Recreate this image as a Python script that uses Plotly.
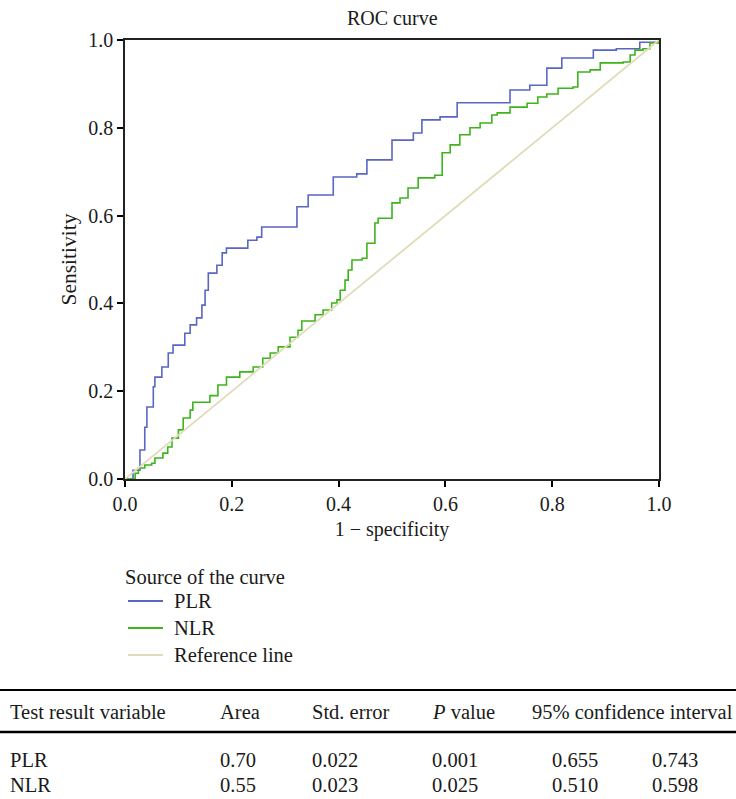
import plotly.graph_objects as go

# ROC curve points (1 - specificity, sensitivity)
plr_x = [0.0, 0.015, 0.028, 0.037, 0.041, 0.053, 0.056, 0.069, 0.081, 0.09, 0.107, 0.112,
         0.122, 0.134, 0.144, 0.15, 0.156, 0.172, 0.182, 0.19, 0.21, 0.23, 0.247, 0.256,
         0.294, 0.322, 0.343, 0.39, 0.434, 0.453, 0.5, 0.54, 0.556, 0.59, 0.622, 0.693,
         0.721, 0.758, 0.79, 0.818, 0.875, 0.877, 0.92, 0.964, 1.0]
plr_y = [0.0, 0.02, 0.066, 0.118, 0.164, 0.21, 0.232, 0.255, 0.287, 0.305, 0.305, 0.332,
         0.351, 0.367, 0.396, 0.43, 0.469, 0.487, 0.515, 0.526, 0.526, 0.544, 0.551, 0.574,
         0.574, 0.62, 0.647, 0.688, 0.695, 0.727, 0.772, 0.788, 0.818, 0.825, 0.857, 0.857,
         0.886, 0.897, 0.936, 0.959, 0.959, 0.977, 0.98, 0.995, 1.0]

nlr_x = [0.0, 0.019, 0.025, 0.037, 0.05, 0.056, 0.071, 0.08, 0.088, 0.1, 0.109, 0.122,
         0.127, 0.146, 0.159, 0.174, 0.19, 0.215, 0.24, 0.258, 0.272, 0.287, 0.309, 0.324,
         0.331, 0.346, 0.356, 0.371, 0.387, 0.397, 0.403, 0.412, 0.418, 0.425, 0.444, 0.453,
         0.468, 0.474, 0.5, 0.515, 0.53, 0.549, 0.58, 0.594, 0.609, 0.627, 0.646, 0.665,
         0.687, 0.697, 0.721, 0.753, 0.773, 0.79, 0.811, 0.839, 0.848, 0.871, 0.89, 0.933,
         0.946, 0.955, 0.97, 0.983, 1.0]
nlr_y = [0.0, 0.013, 0.025, 0.032, 0.036, 0.048, 0.059, 0.073, 0.093, 0.112, 0.139, 0.157,
         0.175, 0.175, 0.19, 0.214, 0.232, 0.244, 0.255, 0.275, 0.287, 0.301, 0.323, 0.339,
         0.36, 0.36, 0.374, 0.385, 0.401, 0.408, 0.43, 0.453, 0.476, 0.499, 0.503, 0.537,
         0.583, 0.594, 0.629, 0.64, 0.663, 0.686, 0.692, 0.743, 0.761, 0.784, 0.8, 0.811,
         0.829, 0.834, 0.847, 0.856, 0.87, 0.877, 0.89, 0.893, 0.927, 0.932, 0.948, 0.95,
         0.966, 0.977, 0.98, 0.993, 1.0]

ref_x = [0.0, 1.0]
ref_y = [0.0, 1.0]

series_names = ["PLR", "NLR", "Reference line"]

# table below the chart
tbl_header = ["Test result variable", "Area", "Std. error", "<i>P</i> value", "95% confidence interval"]
tbl_vars = ["PLR", "NLR"]
tbl_area = ["0.70", "0.55"]
tbl_se = ["0.022", "0.023"]
tbl_p = ["0.001", "0.025"]
tbl_ci_low = ["0.655", "0.510"]
tbl_ci_high = ["0.743", "0.598"]

W, H = 736, 799
L, R, T, B = 125, 659, 40, 479
SERIF = "Liberation Serif, Times New Roman, serif"
BLUE, GREEN, BEIGE = "#5a66c4", "#3db41c", "#e2dbb8"
TXT = 20.5


def px(x):
    return (x - L) / (R - L)


def py(y):
    return (B - y) / (B - T)


fig = go.Figure()
fig.add_trace(go.Scatter(x=plr_x, y=plr_y, mode="lines", name=series_names[0],
                         line=dict(color=BLUE, width=1.6, shape="hv")))
fig.add_trace(go.Scatter(x=nlr_x, y=nlr_y, mode="lines", name=series_names[1],
                         line=dict(color=GREEN, width=1.6, shape="hv")))
fig.add_trace(go.Scatter(x=ref_x, y=ref_y, mode="lines", name=series_names[2],
                         line=dict(color=BEIGE, width=1.8)))


def text(t, x, y, size=TXT, anchor="left"):
    return dict(text=t, x=px(x), y=py(y), xref="paper", yref="paper", showarrow=False,
                font=dict(size=size), xanchor=anchor, yanchor="middle")


def hline(x0, x1, y, color, width):
    return dict(type="line", xref="paper", yref="paper", x0=px(x0), x1=px(x1),
                y0=py(y), y1=py(y), line=dict(color=color, width=width))


ann = [text("ROC curve", 392, 18, size=20, anchor="center")]
shapes = []

# legend drawn below the plot, SPSS style
ann.append(text("Source of the curve", 123, 577))
for name, colour, ly in zip(series_names, [BLUE, GREEN, BEIGE], [601, 628, 655]):
    shapes.append(hline(128, 163, ly, colour, 2.2))
    ann.append(text(name, 172, ly))

# table header and rows
cols_x = [8, 218, 310, 430, 530]
for c, t in zip(cols_x, tbl_header):
    ann.append(text(t, c, 712))
row_x = [8, 218, 310, 430, 550, 650]
for i, ry in enumerate([760, 785]):
    vals = [tbl_vars[i], tbl_area[i], tbl_se[i], tbl_p[i], tbl_ci_low[i], tbl_ci_high[i]]
    for c, t in zip(row_x, vals):
        ann.append(text(t, c, ry))

shapes.append(hline(0, 736, 690, "black", 2))
shapes.append(hline(0, 736, 732, "black", 2.5))

fig.update_layout(
    width=W, height=H, margin=dict(l=L, r=W - R, t=T, b=H - B),
    paper_bgcolor="white", plot_bgcolor="white", showlegend=False,
    font=dict(family=SERIF, size=20, color="#1a1a1a"),
    xaxis=dict(range=[0, 1], tickvals=[0, 0.2, 0.4, 0.6, 0.8, 1.0], tickformat=".1f",
               ticks="outside", ticklen=6, tickwidth=2, tickcolor="black",
               showline=True, linecolor="#222", linewidth=1.5, mirror=True,
               showgrid=False, zeroline=False, tickfont=dict(size=20),
               title=dict(text="1 − specificity", standoff=8, font=dict(size=20))),
    yaxis=dict(range=[0, 1], tickvals=[0, 0.2, 0.4, 0.6, 0.8, 1.0], tickformat=".1f",
               ticks="outside", ticklen=6, tickwidth=2, tickcolor="black",
               showline=True, linecolor="#222", linewidth=1.5, mirror=True,
               showgrid=False, zeroline=False, tickfont=dict(size=20),
               title=dict(text="Sensitivity", standoff=6, font=dict(size=21.5))),
    annotations=ann, shapes=shapes,
)

fig.write_html("out.html", config={"displayModeBar": False},
               post_script="document.body.style.margin='0px';")
